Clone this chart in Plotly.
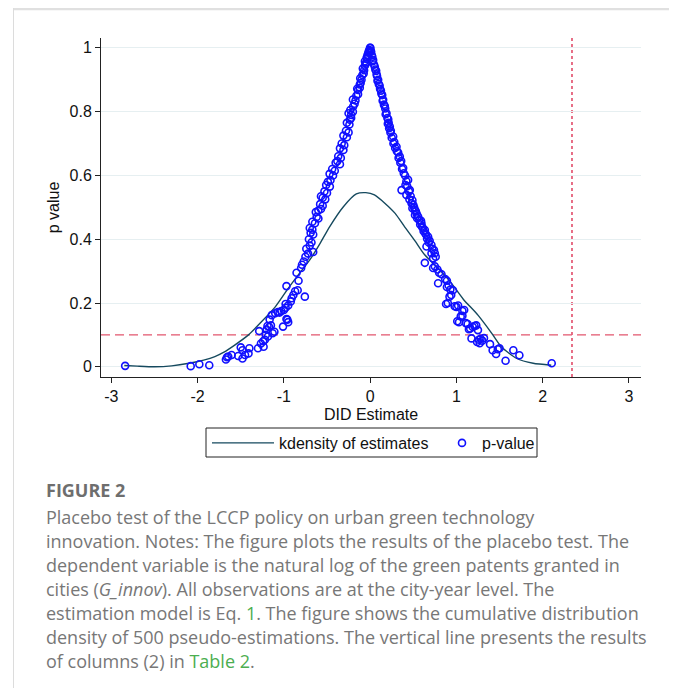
import plotly.graph_objects as go

# ---------------- data ----------------
# kernel density of the placebo estimates
kd_x = [-2.85, -2.7, -2.5, -2.3, -2.1, -1.93, -1.8, -1.7, -1.57, -1.41, -1.26, -1.10,
        -0.95, -0.82, -0.70, -0.58, -0.47, -0.31, -0.16, -0.05, 0.05, 0.17, 0.29, 0.40,
        0.52, 0.63, 0.81, 0.92, 1.08, 1.25, 1.41, 1.52, 1.70, 1.89, 2.10]
kd_y = [0.004, 0.002, 0.000, 0.003, 0.011, 0.021, 0.032, 0.045, 0.068, 0.100, 0.141, 0.188,
        0.246, 0.293, 0.335, 0.387, 0.439, 0.502, 0.542, 0.546, 0.539, 0.513, 0.481, 0.439,
        0.395, 0.352, 0.303, 0.270, 0.212, 0.162, 0.105, 0.063, 0.026, 0.011, 0.005]

# placebo estimates and their p-values
est_left = [-2.84, -2.08, -1.98, -1.865, -1.672, -1.66, -1.645, -1.606, -1.53, -1.50, -1.48, -1.48,
            -1.45, -1.41, -1.40, -1.30, -1.286, -1.266, -1.24, -1.235, -1.22, -1.21, -1.20, -1.19,
            -1.185, -1.17, -1.165, -1.15, -1.14, -1.13, -1.11, -1.10, -1.07, -1.05, -1.03, -1.01,
            -1.00, -0.98, -0.97, -0.96, -0.95, -0.98, -0.95, -0.92, -0.97, -0.91, -0.89, -0.87,
            -0.84, -0.757, -0.853, -0.83, -0.80, -0.79, -0.77, -0.75, -0.72, -0.74, -0.70, -0.68,
            -0.71, -0.66,
            -0.69, -0.66, -0.67, -0.70, -0.64, -0.67, -0.62, -0.60, -0.60, -0.63, -0.57, -0.58,
            -0.55, -0.55, -0.52, -0.57, -0.53, -0.50, -0.467, -0.51, -0.49, -0.46, -0.43, -0.47,
            -0.44, -0.41, -0.40, -0.35, -0.38, -0.37, -0.34, -0.31, -0.35, -0.33, -0.30, -0.27,
            -0.31, -0.28, -0.25, -0.24, -0.27, -0.235, -0.22, -0.22, -0.25, -0.20, -0.23, -0.197,
            -0.18, -0.17, -0.20, -0.16, -0.14, -0.139, -0.15, -0.12, -0.12, -0.11, -0.10, -0.115,
            -0.09, -0.075, -0.07, -0.085, -0.06, -0.05, -0.045, -0.061, -0.035, -0.04, -0.025,
            -0.03, -0.02, -0.012, -0.008, -0.015, -0.002]
pval_left = [0.003, 0.002, 0.008, 0.005, 0.023, 0.030, 0.032, 0.037, 0.034, 0.061, 0.052, 0.026,
             0.037, 0.042, 0.058, 0.058, 0.112, 0.073, 0.080, 0.063, 0.085, 0.100, 0.117, 0.128,
             0.095, 0.125, 0.148, 0.130, 0.162, 0.105, 0.110, 0.168, 0.172, 0.170, 0.175, 0.126,
             0.178, 0.185, 0.150, 0.148, 0.140, 0.197, 0.192, 0.205, 0.253, 0.215, 0.225, 0.237,
             0.240, 0.220, 0.295, 0.270, 0.310, 0.320, 0.330, 0.345, 0.355, 0.370, 0.380, 0.390,
             0.400, 0.360,
             0.420, 0.415, 0.430, 0.435, 0.450, 0.455, 0.470, 0.465, 0.490, 0.485, 0.495, 0.510,
             0.505, 0.530, 0.525, 0.535, 0.550, 0.545, 0.565, 0.570, 0.580, 0.585, 0.600, 0.605,
             0.620, 0.615, 0.640, 0.635, 0.645, 0.660, 0.655, 0.680, 0.685, 0.700, 0.695, 0.720,
             0.725, 0.740, 0.735, 0.760, 0.765, 0.775, 0.780, 0.790, 0.795, 0.800, 0.805, 0.816,
             0.825, 0.835, 0.838, 0.850, 0.855, 0.868, 0.872, 0.875, 0.885, 0.890, 0.900, 0.905,
             0.915, 0.920, 0.930, 0.935, 0.945, 0.950, 0.955, 0.958, 0.965, 0.970, 0.975,
             0.978, 0.985, 0.987, 0.993, 0.990, 1.000]

est_right = [0.003, 0.008, 0.012, 0.02, 0.025, 0.035, 0.03, 0.045, 0.054, 0.06, 0.07, 0.075,
             0.08, 0.093, 0.085, 0.10, 0.11, 0.115, 0.125, 0.13, 0.14, 0.151, 0.145, 0.16,
             0.17, 0.175, 0.19, 0.18, 0.20, 0.21, 0.215, 0.205, 0.228, 0.22, 0.24, 0.235,
             0.267, 0.25, 0.28, 0.27, 0.306, 0.29, 0.31, 0.325, 0.344, 0.33, 0.35, 0.36,
             0.383, 0.37, 0.39, 0.405, 0.44, 0.42, 0.41, 0.43, 0.46, 0.364, 0.45, 0.42,
             0.47, 0.455, 0.49, 0.48, 0.50, 0.51, 0.49, 0.518, 0.53, 0.54, 0.52, 0.556,
             0.545, 0.57, 0.59, 0.595, 0.58, 0.60, 0.61, 0.634, 0.62, 0.64, 0.65, 0.672,
             0.66, 0.69, 0.68, 0.711, 0.653, 0.72, 0.74, 0.75, 0.711, 0.73, 0.76, 0.634,
             0.73, 0.75, 0.78, 0.827, 0.80, 0.89, 0.87, 0.788, 0.89, 0.91, 0.96, 0.93,
             0.92, 0.94, 0.88, 0.90, 0.98, 1.00, 1.02, 1.07, 1.09, 1.05, 1.07, 1.03,
             1.01, 1.11, 1.13, 1.145, 1.16, 1.21, 1.23, 1.19, 1.25, 1.175, 1.26, 1.28,
             1.30, 1.32, 1.27, 1.24, 1.39, 1.42, 1.46, 1.48, 1.50, 1.57, 1.66, 1.73, 2.105]
pval_right = [1.000, 0.990, 0.988, 0.977, 0.972, 0.962, 0.958, 0.948, 0.941, 0.932, 0.928, 0.917,
              0.912, 0.900, 0.897, 0.887, 0.882, 0.872, 0.866, 0.857, 0.852, 0.837, 0.834, 0.822,
              0.818, 0.810, 0.795, 0.792, 0.780, 0.776, 0.765, 0.762, 0.753, 0.748, 0.740, 0.735,
              0.722, 0.718, 0.705, 0.700, 0.690, 0.686, 0.676, 0.672, 0.659, 0.655, 0.640, 0.645,
              0.623, 0.620, 0.607, 0.600, 0.586, 0.582, 0.570, 0.566, 0.554, 0.554, 0.550, 0.539,
              0.535, 0.525, 0.522, 0.513, 0.508, 0.500, 0.497, 0.492, 0.488, 0.480, 0.476, 0.471,
              0.466, 0.460, 0.458, 0.450, 0.446, 0.440, 0.436, 0.429, 0.425, 0.418, 0.414, 0.408,
              0.402, 0.395, 0.390, 0.382, 0.377, 0.370, 0.366, 0.356, 0.356, 0.340, 0.345, 0.326,
              0.310, 0.315, 0.305, 0.290, 0.295, 0.270, 0.275, 0.262, 0.250, 0.255, 0.240, 0.242,
              0.220, 0.225, 0.197, 0.200, 0.190, 0.188, 0.192, 0.175, 0.178, 0.158, 0.160, 0.140,
              0.143, 0.137, 0.134, 0.118, 0.120, 0.128, 0.130, 0.125, 0.115, 0.089, 0.085, 0.088,
              0.082, 0.090, 0.074, 0.078, 0.071, 0.052, 0.040, 0.055, 0.058, 0.019, 0.052, 0.036, 0.011]

placebo_estimates = est_left + est_right
placebo_pvalues = pval_left + pval_right

p_threshold = 0.1          # horizontal reference line
true_estimate = 2.34       # vertical line: actual estimate, column (2) of Table 2

x_ticks = [-3, -2, -1, 0, 1, 2, 3]
x_ticktext = ["-3", "-2", "-1", "0", "1", "2", "3"]
y_ticks = [0, 0.2, 0.4, 0.6, 0.8, 1]
y_ticktext = ["0", "0.2", "0.4", "0.6", "0.8", "1"]

caption_title = "FIGURE 2"
caption_lines = [
    "Placebo test of the LCCP policy on urban green technology",
    "innovation. Notes: The figure plots the results of the placebo test. The",
    "dependent variable is the natural log of the green patents granted in",
    "cities (<i>G_innov</i>). All observations are at the city-year level. The",
    "estimation model is Eq. <span style='color:#4cae50'>1</span>. The figure shows the cumulative distribution",
    "density of 500 pseudo-estimations. The vertical line presents the results",
    "of columns (2) in <span style='color:#4cae50'>Table 2</span>.",
]

# ---------------- layout geometry ----------------
OFF = 8                      # page body margin in the browser
W, H = 677 - 2 * OFF, 696 - 2 * OFF
L, R, T, B = 101 - OFF, 641 - OFF, 38 - OFF, 377 - OFF   # plot area (figure px)


def px(xs):   # screen x -> paper x
    return (xs - OFF - L) / (R - L)


def py(ys):   # screen y -> paper y
    return (B - (ys - OFF)) / (B - T)


AX_FONT = dict(family="Liberation Sans, Arial, sans-serif", size=16, color="#111111")

fig = go.Figure()

fig.add_trace(go.Scatter(
    x=kd_x, y=kd_y, mode="lines", name="kdensity of estimates", legend="legend",
    line=dict(color="#15495e", width=1.4, shape="spline", smoothing=0.6),
))
fig.add_trace(go.Scatter(
    x=placebo_estimates, y=placebo_pvalues, mode="markers", name="p-value", legend="legend2",
    marker=dict(symbol="circle-open", size=7, color="#1010ff", line=dict(width=1.6, color="#1010ff")),
))

fig.add_hline(y=p_threshold, line=dict(color="#e2566e", width=1.3, dash="9px,5px"), layer="below")
fig.add_vline(x=true_estimate, line=dict(color="#e5607a", width=1.8, dash="3px,3px"), layer="below")

# legend frame
fig.add_shape(type="rect", xref="paper", yref="paper", x0=px(206), x1=px(537), y0=py(428), y1=py(457),
              line=dict(color="#222222", width=1), fillcolor="rgba(0,0,0,0)")

# card frame around figure + caption
frame_col = "#dcdcdc"
fig.add_shape(type="line", xref="paper", yref="paper", x0=px(13), x1=px(675), y0=py(9), y1=py(9),
              line=dict(color="#e0e0e0", width=2.5), layer="below")
fig.add_shape(type="line", xref="paper", yref="paper", x0=px(13.5), x1=px(13.5), y0=py(8), y1=py(700),
              line=dict(color=frame_col, width=1), layer="below")
fig.add_shape(type="line", xref="paper", yref="paper", x0=px(673.5), x1=px(673.5), y0=py(8), y1=py(700),
              line=dict(color=frame_col, width=1.5), layer="below")

# caption
cap_font = dict(family="Open Sans, sans-serif", size=18, color="#777777")
fig.add_annotation(xref="paper", yref="paper", x=px(44), y=py(490), xanchor="left", yanchor="middle",
                   text="<b>" + caption_title + "</b>", showarrow=False,
                   font=dict(family="Open Sans, sans-serif", size=18, color="#6e6e6e"))
for i, line in enumerate(caption_lines):
    fig.add_annotation(xref="paper", yref="paper", x=px(44), y=py(517 + 24 * i),
                       xanchor="left", yanchor="middle", text=line, showarrow=False, font=cap_font)

fig.update_layout(
    width=W, height=H,
    margin=dict(l=L, r=W - R, t=T, b=H - B, autoexpand=False),
    paper_bgcolor="white", plot_bgcolor="white",
    font=AX_FONT,
    showlegend=True,
    legend=dict(orientation="h", x=px(207), y=py(443), xanchor="left", yanchor="middle",
                borderwidth=0, font=AX_FONT, itemwidth=62, bgcolor="rgba(0,0,0,0)"),
    legend2=dict(orientation="h", x=px(442), y=py(443), xanchor="left", yanchor="middle",
                 borderwidth=0, font=AX_FONT, itemwidth=30, bgcolor="rgba(0,0,0,0)"),
    xaxis=dict(range=[-3.12, 3.14], tickvals=x_ticks, ticktext=x_ticktext,
               showgrid=False, zeroline=False, showline=True, linecolor="#222222", linewidth=1,
               ticks="outside", ticklen=5, tickcolor="#222222",
               title=dict(text="DID Estimate", standoff=4, font=AX_FONT), tickfont=AX_FONT),
    yaxis=dict(range=[-0.032, 1.031], tickvals=y_ticks, ticktext=y_ticktext,
               showgrid=True, gridcolor="#e6eff1", gridwidth=1.2, zeroline=False,
               showline=True, linecolor="#222222", linewidth=1,
               ticks="outside", ticklen=5, tickcolor="#222222",
               title=dict(text="p value", standoff=5, font=AX_FONT), tickfont=AX_FONT),
)

fig.write_html("out.html")
